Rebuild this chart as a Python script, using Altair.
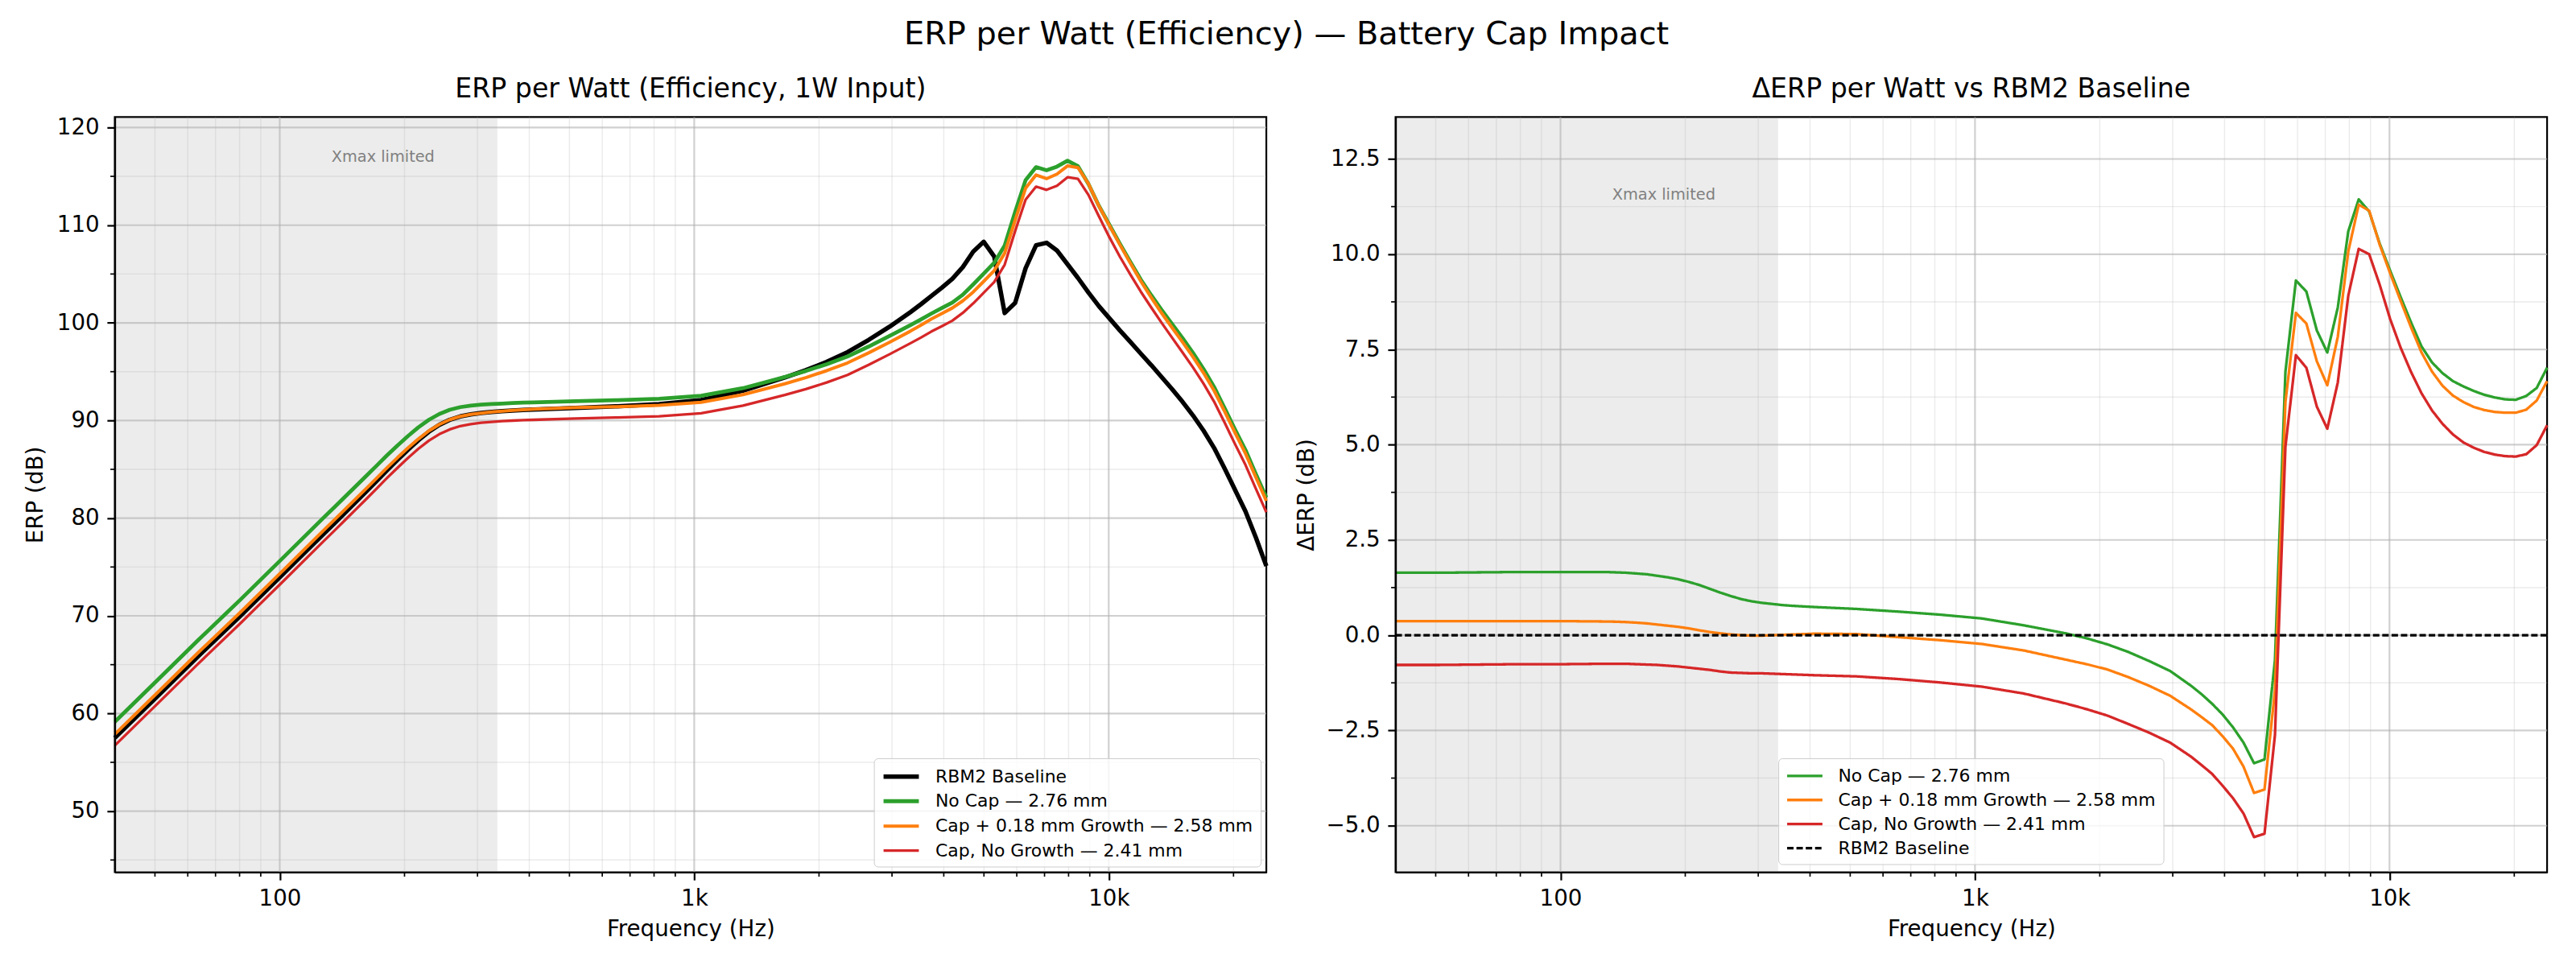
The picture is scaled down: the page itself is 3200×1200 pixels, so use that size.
import altair as alt
import pandas as pd

# ---------------- data ----------------
freq = [40, 50.5, 63.7, 80.4, 101.4, 128.0, 135.7, 143.8, 152.4, 161.5,
        171.2, 181.4, 192.3, 203.8, 216.0, 229.0, 242.7, 257.2, 272.6, 289.0,
        306.2, 324.6, 344.0, 364.6, 386.5, 409.6, 516.9, 652.3, 823.1, 1038.8,
        1310.9, 1654, 1858, 2087, 2344, 2634, 2958, 3324, 3522, 3734,
        3957, 4194, 4445, 4712, 4994, 5293, 5610, 5946, 6302, 6679,
        7079, 7503, 7953, 8428, 8934, 9470, 10036, 10636, 11272, 11948,
        12664, 13420, 14224, 15076, 15980, 16936, 17952, 19028, 20168, 21376,
        22656, 24000]

erp_baseline = [57.5, 61.7, 65.9, 70.0, 74.2, 78.45, 79.50, 80.56, 81.63, 82.70,
                83.80, 84.90, 85.97, 87.00, 87.98, 88.85, 89.55, 90.07, 90.42, 90.63,
                90.77, 90.87, 90.95, 91.02, 91.08, 91.12, 91.29, 91.46, 91.68, 92.1,
                93.05, 94.4, 95.15, 96.0, 97.0, 98.25, 99.6, 101.1, 101.9, 102.75,
                103.6, 104.5, 105.7, 107.3, 108.3, 106.8, 101.0, 102.05, 105.6, 107.95,
                108.2, 107.4, 106.0, 104.6, 103.1, 101.7, 100.47, 99.23, 98.05, 96.85,
                95.67, 94.44, 93.2, 91.9, 90.5, 88.96, 87.2, 85.1, 82.9, 80.7,
                78.0, 75.1]

erp_no_cap = [59.14, 63.34, 67.55, 71.66, 75.86, 80.11, 81.15, 82.20, 83.25, 84.30,
              85.36, 86.42, 87.44, 88.40, 89.30, 90.07, 90.67, 91.10, 91.37, 91.52,
              91.62, 91.69, 91.74, 91.79, 91.84, 91.86, 91.98, 92.08, 92.22, 92.54,
              93.31, 94.45, 95.07, 95.76, 96.56, 97.57, 98.66, 99.77, 100.35, 100.95,
              101.52, 102.08, 102.88, 103.94, 105.04, 106.15, 107.92, 111.36, 114.62, 115.95,
              115.62, 116.00, 116.60, 116.04, 114.22, 111.98, 110.04, 108.11, 106.26, 104.43,
              102.83, 101.32, 99.87, 98.43, 96.91, 95.27, 93.44, 91.29, 89.08, 86.98,
              84.49, 82.12]

erp_cap_growth = [57.87, 62.07, 66.27, 70.37, 74.57, 78.81, 79.86, 80.91, 81.96, 83.01,
                  84.08, 85.15, 86.19, 87.18, 88.11, 88.94, 89.60, 90.09, 90.42, 90.62,
                  90.76, 90.87, 90.96, 91.04, 91.11, 91.16, 91.32, 91.41, 91.55, 91.87,
                  92.65, 93.76, 94.39, 95.10, 95.90, 96.92, 98.01, 99.15, 99.75, 100.39,
                  100.95, 101.52, 102.25, 103.16, 104.25, 105.35, 107.12, 110.51, 113.78, 115.14,
                  114.76, 115.23, 116.07, 115.90, 114.24, 111.95, 109.97, 108.01, 106.13, 104.27,
                  102.59, 100.99, 99.49, 98.02, 96.49, 94.87, 93.06, 90.94, 88.74, 86.62,
                  84.16, 81.77]

erp_cap_no_growth = [56.72, 60.92, 65.13, 69.24, 73.44, 77.70, 78.75, 79.81, 80.87, 81.93,
                     83.02, 84.10, 85.15, 86.15, 87.10, 87.94, 88.60, 89.09, 89.43, 89.63,
                     89.77, 89.86, 89.93, 89.99, 90.04, 90.07, 90.21, 90.31, 90.44, 90.75,
                     91.52, 92.61, 93.21, 93.89, 94.67, 95.69, 96.78, 97.91, 98.49, 99.11,
                     99.65, 100.22, 101.02, 102.00, 103.09, 104.18, 105.95, 109.40, 112.62, 113.95,
                     113.62, 114.03, 114.91, 114.74, 113.10, 110.90, 108.77, 106.78, 104.96, 103.20,
                     101.57, 99.99, 98.47, 96.96, 95.42, 93.77, 91.94, 89.80, 87.59, 85.45,
                     82.99, 80.61]

d_no_cap = [1.64, 1.64, 1.65, 1.66, 1.66, 1.66, 1.65, 1.64, 1.62, 1.60,
            1.56, 1.52, 1.47, 1.40, 1.32, 1.22, 1.12, 1.03, 0.95, 0.89,
            0.85, 0.82, 0.79, 0.77, 0.755, 0.74, 0.69, 0.62, 0.54, 0.44,
            0.26, 0.05, -0.08, -0.24, -0.44, -0.68, -0.94, -1.33, -1.55, -1.80,
            -2.08, -2.42, -2.82, -3.36, -3.26, -0.65, 6.92, 9.31, 9.02, 8.00,
            7.42, 8.60, 10.60, 11.44, 11.12, 10.28, 9.57, 8.88, 8.21, 7.58,
            7.16, 6.88, 6.67, 6.53, 6.41, 6.31, 6.24, 6.19, 6.18, 6.28,
            6.49, 7.02]

d_cap_growth = [0.37, 0.37, 0.37, 0.37, 0.37, 0.36, 0.355, 0.345, 0.33, 0.31,
                0.28, 0.25, 0.22, 0.18, 0.13, 0.085, 0.05, 0.02, 0.00, -0.01,
                -0.01, 0.00, 0.01, 0.02, 0.03, 0.04, 0.03, -0.05, -0.13, -0.23,
                -0.40, -0.64, -0.76, -0.90, -1.10, -1.33, -1.59, -1.95, -2.15, -2.36,
                -2.65, -2.98, -3.45, -4.14, -4.05, -1.45, 6.12, 8.46, 8.18, 7.19,
                6.56, 7.83, 10.07, 11.30, 11.14, 10.25, 9.50, 8.78, 8.08, 7.42,
                6.92, 6.55, 6.29, 6.12, 5.99, 5.91, 5.86, 5.84, 5.84, 5.92,
                6.16, 6.67]

d_cap_no_growth = [-0.78, -0.78, -0.77, -0.76, -0.76, -0.75, -0.75, -0.75, -0.76, -0.77,
                   -0.78, -0.80, -0.82, -0.85, -0.88, -0.91, -0.95, -0.98, -0.99, -1.00,
                   -1.00, -1.01, -1.02, -1.03, -1.04, -1.05, -1.08, -1.15, -1.24, -1.35,
                   -1.53, -1.79, -1.94, -2.11, -2.33, -2.56, -2.82, -3.19, -3.41, -3.64,
                   -3.95, -4.28, -4.68, -5.30, -5.21, -2.62, 4.95, 7.35, 7.02, 6.00,
                   5.42, 6.63, 8.91, 10.14, 10.00, 9.20, 8.30, 7.55, 6.91, 6.35,
                   5.90, 5.55, 5.27, 5.06, 4.92, 4.81, 4.74, 4.70, 4.69, 4.75,
                   4.99, 5.51]

d_baseline = [0.0] * len(freq)

name_base = "RBM2 Baseline"
name_nocap = "No Cap — 2.76 mm"
name_growth = "Cap + 0.18 mm Growth — 2.58 mm"
name_nogrowth = "Cap, No Growth — 2.41 mm"

x_domain = [40, 24000]
x_major = [100, 1000, 10000]
x_minor = [50, 60, 70, 80, 90, 200, 300, 400, 500, 600, 700, 800, 900,
           2000, 3000, 4000, 5000, 6000, 7000, 8000, 9000, 20000]
yl_domain = [43.75, 121.07]
yl_major = [50, 60, 70, 80, 90, 100, 110, 120]
yl_minor = [45, 55, 65, 75, 85, 95, 105, 115]
yr_domain = [-6.22, 13.6]
yr_major = [-5.0, -2.5, 0.0, 2.5, 5.0, 7.5, 10.0, 12.5]
yr_minor = [-3.75, -1.25, 1.25, 3.75, 6.25, 8.75, 11.25]
xmax_span = [20, 335]
xmax_label_f = 177.5
xmax_label_y_left = 117.0
xmax_label_y_right = 11.55

# ---------------- styling ----------------
FONT = "DejaVu Sans"
W, H = 1435, 941
MAJOR_GRID = dict(color="#b0b0b0", opacity=0.6, strokeWidth=2.2)
MINOR_GRID = dict(color="#b0b0b0", opacity=0.25, strokeWidth=1.4)


def long_df(pairs):
    frames = [pd.DataFrame({"f": freq, "v": vals, "s": name}) for name, vals in pairs]
    return pd.concat(frames, ignore_index=True)


def panel(under_df, over_df, names, colors, widths, dashes, ydom, ymaj, ymin,
          yfmt, ytitle, title, legx, annot_y, ytitle_pad):
    xs = alt.Scale(type="log", domain=x_domain, nice=False)
    ys = alt.Scale(domain=ydom, nice=False, zero=False)
    xax = alt.Axis(values=x_major,
                   labelExpr="datum.value >= 1000 ? format(datum.value / 1000, 'd') + 'k' : format(datum.value, 'd')",
                   title="Frequency (Hz)", grid=False, tickSize=9.7, tickWidth=2.2,
                   tickColor="black", domainColor="black", domainWidth=2.2,
                   labelFont=FONT, labelFontSize=27.8, labelColor="black", labelPadding=9.7,
                   labelFlush=False, titleFont=FONT, titleFontSize=27.8,
                   titleFontWeight="normal", titleColor="black", titlePadding=10, zindex=1)
    yax = alt.Axis(values=ymaj, format=yfmt, title=ytitle, grid=False, tickSize=9.7,
                   tickWidth=2.2, tickColor="black", domainColor="black", domainWidth=2.2,
                   labelFont=FONT, labelFontSize=27.8, labelColor="black", labelPadding=9.7,
                   labelFlush=False, titleFont=FONT, titleFontSize=27.8,
                   titleFontWeight="normal", titleColor="black", titlePadding=ytitle_pad, zindex=1)

    def X(fld):
        return alt.X(fld, type="quantitative", scale=xs, axis=xax)

    def Y(fld):
        return alt.Y(fld, type="quantitative", scale=ys, axis=yax)

    leg = alt.Legend(title=None, orient="none", legendX=legx, legendY=799,
                     symbolType="M-1,0H3", symbolSize=484, labelFont=FONT,
                     labelFontSize=22, labelColor="black", labelOffset=39.6,
                     labelLimit=900, padding=9, rowPadding=6,
                     fillColor="rgba(255,255,255,0.8)", strokeColor="#cccccc",
                     cornerRadius=5)
    enc = dict(
        color=alt.Color("s:N", scale=alt.Scale(domain=names, range=colors), legend=leg),
        strokeWidth=alt.StrokeWidth("s:N", scale=alt.Scale(domain=names, range=widths), legend=leg),
    )
    if dashes is not None:
        enc["strokeDash"] = alt.StrokeDash("s:N", scale=alt.Scale(domain=names, range=dashes), legend=leg)

    shade = alt.Chart(pd.DataFrame({"a": [xmax_span[0]], "b": [xmax_span[1]]})).mark_rect(
        color="#808080", opacity=0.15, clip=True).encode(x=X("a"), x2=alt.X2("b"))
    gx_min = alt.Chart(pd.DataFrame({"g": x_minor})).mark_rule(**MINOR_GRID).encode(x=X("g"))
    gy_min = alt.Chart(pd.DataFrame({"g": ymin})).mark_rule(**MINOR_GRID).encode(y=Y("g"))
    gx_maj = alt.Chart(pd.DataFrame({"g": x_major})).mark_rule(**MAJOR_GRID).encode(x=X("g"))
    gy_maj = alt.Chart(pd.DataFrame({"g": ymaj})).mark_rule(**MAJOR_GRID).encode(y=Y("g"))
    tx_min = alt.Chart(pd.DataFrame({"g": x_minor})).mark_rule(color="black", strokeWidth=1.7).encode(
        x=X("g"), y=alt.value(H), y2=alt.value(H + 5.5))
    ty_min = alt.Chart(pd.DataFrame({"g": ymin})).mark_rule(color="black", strokeWidth=1.7).encode(
        y=Y("g"), x=alt.value(-5.5), x2=alt.value(0))
    l_under = alt.Chart(under_df).mark_line(strokeJoin="round").encode(x=X("f"), y=Y("v"), **enc)
    l_over = alt.Chart(over_df).mark_line(strokeJoin="round").encode(x=X("f"), y=Y("v"), **enc)
    txt = alt.Chart(pd.DataFrame({"f": [xmax_label_f], "v": [annot_y], "t": ["Xmax limited"]})).mark_text(
        font=FONT, fontSize=19.4, color="#808080", align="center", baseline="middle").encode(
        x=X("f"), y=Y("v"), text="t:N")
    return alt.layer(shade, gx_min, gy_min, gx_maj, gy_maj, tx_min, ty_min,
                     l_under, l_over, txt).properties(
        width=W, height=H,
        title=alt.TitleParams(title, font=FONT, fontSize=33.3, fontWeight="normal",
                              color="black", anchor="middle", offset=16))


left_under = long_df([(name_base, erp_baseline)])
left_over = long_df([(name_nocap, erp_no_cap), (name_growth, erp_cap_growth),
                     (name_nogrowth, erp_cap_no_growth)])
right_under = long_df([(name_nocap, d_no_cap), (name_growth, d_cap_growth),
                       (name_nogrowth, d_cap_no_growth)])
right_over = long_df([(name_base, d_baseline)])

left = panel(left_under, left_over,
             [name_base, name_nocap, name_growth, name_nogrowth],
             ["#000000", "#2ca02c", "#ff7f0e", "#d62728"],
             [5.5, 3.3, 3.3, 3.3], None,
             yl_domain, yl_major, yl_minor, "d", "ERP (dB)",
             "ERP per Watt (Efficiency, 1W Input)", 946, xmax_label_y_left, 12)

right = panel(right_under, right_over,
              [name_nocap, name_growth, name_nogrowth, name_base],
              ["#2ca02c", "#ff7f0e", "#d62728", "#000000"],
              [3.3, 3.3, 3.3, 2.2], [[1, 0], [1, 0], [1, 0], [8, 3.6]],
              yr_domain, yr_major, yr_minor, ".1f", "ΔERP (dB)",
              "ΔERP per Watt vs RBM2 Baseline", 477, xmax_label_y_right, 10)

chart = alt.hconcat(left, right, spacing=31).resolve_scale(
    color="independent", strokeWidth="independent", strokeDash="independent"
).resolve_legend(
    color="independent", strokeWidth="independent", strokeDash="independent"
).properties(
    title=alt.TitleParams("ERP per Watt (Efficiency) — Battery Cap Impact", font=FONT,
                          fontSize=40, fontWeight="normal", color="black",
                          anchor="middle", offset=30)
).configure(
    padding={"left": 21, "top": 13, "right": 25, "bottom": 15}, background="white"
).configure_view(stroke="black", strokeWidth=2.2)

chart.save("out.html", embed_options={"renderer": "svg", "actions": False})
